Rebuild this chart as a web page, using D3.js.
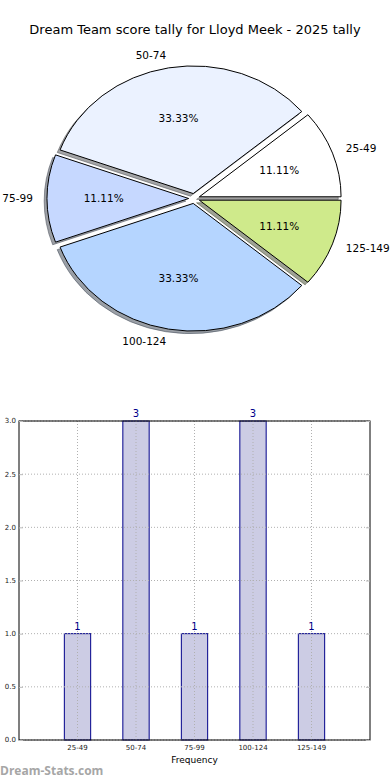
<!DOCTYPE html>
<html lang="en">
<meta charset="utf-8">
<head>
<title>Dream Team score tally</title>
<style>
  body { margin: 0; background: #fff; }
  svg { display: block; font-family: "DejaVu Sans", sans-serif; }
  .grid line { stroke: #b0b0b0; stroke-dasharray: 1,2; stroke-width: 1; }
  .tick-lbl { font-size: 7px; fill: #222; }
</style>
</head>
<body>
<svg width="390" height="780"></svg>
<script src="https://cdn.jsdelivr.net/npm/d3@7"></script>
<script>

// data
var categories = ["25-49", "50-74", "75-99", "100-124", "125-149"];
var counts = [1, 3, 1, 3, 1];
var pieColors = ["#ffffff", "#ebf2ff", "#c6d8ff", "#b5d5ff", "#cfea8b"];
var yTicks = [0, 0.5, 1, 1.5, 2, 2.5, 3];

var svg = d3.select("svg");
var total = d3.sum(counts);

svg.append("text")
    .attr("x", 195).attr("y", 34)
    .attr("text-anchor", "middle")
    .style("font-size", "13px")
    .text("Dream Team score tally for Lloyd Meek - 2025 tally");

// ---- pie (ellipse, exploded, with shadow) ----
var cx = 194.2, cy = 198.5, rx = 141.7, ry = 127.6;
var ex = 5.5, ey = 5;   // explode offset in px

var pie = d3.pie().sort(null)
    .startAngle(Math.PI / 2)
    .endAngle(Math.PI / 2 - 2 * Math.PI);
var arcs = pie(counts);
var arc = d3.arc().innerRadius(0).outerRadius(1);

function mid(d) { return (d.startAngle + d.endAngle) / 2; }
function offX(d) { return ex * Math.sin(mid(d)); }
function offY(d) { return -ey * Math.cos(mid(d)); }

function shade(c) {
  var k = d3.rgb(c);
  return d3.rgb(k.r * 0.3, k.g * 0.3, k.b * 0.3);
}

var pg = svg.append("g");

pg.selectAll(".shadow")
  .data(arcs)
  .enter().append("path")
    .attr("class", "shadow")
    .attr("transform", function(d) {
      return "translate(" + (cx + offX(d) - 2.8) + "," + (cy + offY(d) + 2.6) + ") scale(" + rx + "," + ry + ")";
    })
    .attr("d", arc)
    .attr("fill", function(d, i) { return shade(pieColors[i]); })
    .attr("fill-opacity", 0.5)
    .attr("stroke", function(d, i) { return shade(pieColors[i]); })
    .attr("stroke-opacity", 0.5)
    .attr("stroke-width", 1)
    .attr("vector-effect", "non-scaling-stroke");

pg.selectAll(".slice")
  .data(arcs)
  .enter().append("path")
    .attr("class", "slice")
    .attr("transform", function(d) {
      return "translate(" + (cx + offX(d)) + "," + (cy + offY(d)) + ") scale(" + rx + "," + ry + ")";
    })
    .attr("d", arc)
    .attr("fill", function(d, i) { return pieColors[i]; })
    .attr("stroke", "#000")
    .attr("stroke-width", 1)
    .attr("vector-effect", "non-scaling-stroke");

// outer labels at 1.1 r
pg.selectAll(".plabel")
  .data(arcs)
  .enter().append("text")
    .attr("x", function(d) { return cx + offX(d) + 1.1 * rx * Math.sin(mid(d)); })
    .attr("y", function(d) { return cy + offY(d) - 1.1 * ry * Math.cos(mid(d)); })
    .attr("dy", "0.35em")
    .attr("text-anchor", function(d) { return Math.sin(mid(d)) > 0 ? "start" : "end"; })
    .style("font-size", "10.5px")
    .text(function(d, i) { return categories[i]; });

// percentages at 0.6 r
pg.selectAll(".pct")
  .data(arcs)
  .enter().append("text")
    .attr("x", function(d) { return cx + offX(d) + 0.6 * rx * Math.sin(mid(d)); })
    .attr("y", function(d) { return cy + offY(d) - 0.6 * ry * Math.cos(mid(d)); })
    .attr("dy", "0.35em")
    .attr("text-anchor", "middle")
    .style("font-size", "10.5px")
    .text(function(d) { return (d.value / total * 100).toFixed(2) + "%"; });

// ---- bar chart ----
var bLeft = 19, bRight = 370, bTop = 421, bBottom = 740;
var x = d3.scaleLinear().domain([0, categories.length + 1]).range([bLeft, bRight]);
var y = d3.scaleLinear().domain([0, 3]).range([bBottom, bTop]);
var barW = 0.45;

var bg = svg.append("g");

bg.selectAll(".bar")
  .data(counts)
  .enter().append("rect")
    .attr("x", function(d, i) { return x(i + 1 - barW / 2); })
    .attr("width", x(barW) - x(0))
    .attr("y", function(d) { return y(d); })
    .attr("height", function(d) { return y(0) - y(d); })
    .attr("fill", "#ccccE4")
    .attr("stroke", "#00008b")
    .attr("stroke-width", 1);

var grid = bg.append("g").attr("class", "grid");
grid.selectAll(".gy")
  .data(yTicks)
  .enter().append("line")
    .attr("x1", bLeft).attr("x2", bRight)
    .attr("y1", function(d) { return y(d); })
    .attr("y2", function(d) { return y(d); });
grid.selectAll(".gx")
  .data(categories)
  .enter().append("line")
    .attr("x1", function(d, i) { return x(i + 1); })
    .attr("x2", function(d, i) { return x(i + 1); })
    .attr("y1", bTop).attr("y2", bBottom);

// frame
bg.append("rect")
    .attr("x", bLeft).attr("y", bTop)
    .attr("width", bRight - bLeft).attr("height", bBottom - bTop)
    .attr("fill", "none")
    .attr("stroke", "#000")
    .attr("stroke-width", 1);

// inward ticks
var yAxisL = d3.axisRight(y).tickValues(yTicks).tickSize(4).tickFormat("");
var yAxisR = d3.axisLeft(y).tickValues(yTicks).tickSize(4).tickFormat("");
bg.append("g").attr("transform", "translate(" + bLeft + ",0)").call(yAxisL)
  .call(function(g) { g.select(".domain").remove(); g.selectAll("line").attr("stroke", "#bbb"); });
bg.append("g").attr("transform", "translate(" + bRight + ",0)").call(yAxisR)
  .call(function(g) { g.select(".domain").remove(); g.selectAll("line").attr("stroke", "#bbb"); });

bg.selectAll(".ylab")
  .data(yTicks)
  .enter().append("text")
    .attr("class", "tick-lbl")
    .attr("x", bLeft - 3)
    .attr("y", function(d) { return y(d); })
    .attr("dy", "0.35em")
    .attr("text-anchor", "end")
    .text(function(d) { return d.toFixed(1); });

bg.selectAll(".xlab")
  .data(categories)
  .enter().append("text")
    .attr("class", "tick-lbl")
    .attr("x", function(d, i) { return x(i + 1); })
    .attr("y", bBottom + 10)
    .attr("text-anchor", "middle")
    .text(function(d) { return d; });

bg.selectAll(".val")
  .data(counts)
  .enter().append("text")
    .attr("x", function(d, i) { return x(i + 1); })
    .attr("y", function(d) { return y(d) - 4; })
    .attr("text-anchor", "middle")
    .style("font-size", "10px")
    .style("fill", "#00008b")
    .text(function(d) { return d; });

svg.append("text")
    .attr("x", (bLeft + bRight) / 2).attr("y", 763)
    .attr("text-anchor", "middle")
    .style("font-size", "9px")
    .text("Frequency");

svg.append("text")
    .attr("x", 0).attr("y", 775)
    .style("font-size", "12px")
    .style("font-weight", "bold")
    .style("font-family", "'Open Sans', sans-serif")
    .style("fill", "#a6a6a6")
    .text("Dream-Stats.com");

</script>
</body>
</html>
